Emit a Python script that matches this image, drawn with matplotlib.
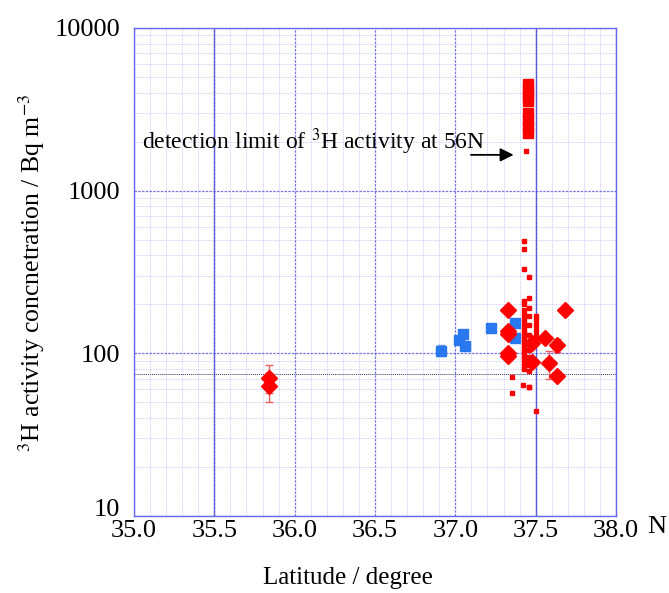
import numpy as np
import matplotlib.pyplot as plt
import matplotlib.transforms as mtransforms
from matplotlib.ticker import FixedLocator, NullFormatter

plt.rcParams['font.family'] = ['Liberation Serif', 'DejaVu Serif']
plt.rcParams['mathtext.fontset'] = 'stix'

# red diamonds (with error bars)
dia_lat = [35.84, 35.84, 37.33, 37.33, 37.33, 37.33, 37.33, 37.48, 37.48, 37.56, 37.58, 37.63, 37.63, 37.68]
dia_val = [71, 63, 185, 138, 131, 100, 96, 116, 89, 125, 87, 112, 73, 185]
dia_err = [14, 13, 0, 0, 0, 0, 0, 0, 0, 0, 17, 10, 0, 0]

# blue squares
blu_lat = [36.91, 37.02, 37.05, 37.06, 37.22, 37.37, 37.37]
blu_val = [104, 121, 131, 111, 143, 154, 125]
blu_err = [8, 6, 6, 6, 8, 8, 8]

# small red squares
sm_lat = ([37.43] * 23 + [37.46] * 12 + [37.50] * 7 + [37.35, 37.35, 37.42, 37.46, 37.44])
sm_val = ([490, 440, 330, 210, 200, 185, 175, 165, 155, 148, 140, 133, 127, 122,
           117, 112, 107, 102, 97, 93, 88, 84, 80] +
          [295, 220, 190, 170, 150, 130, 118, 105, 95, 85, 78, 62] +
          [170, 160, 150, 140, 130, 120, 44] +
          [72, 57, 64, 62, 1760])

# big red squares (high values)
big_lat = [37.45] * 8
big_val = [4500, 4150, 3850, 3550, 3000, 2700, 2450, 2250]

fig = plt.figure(figsize=(6.69, 5.93), dpi=100)
ax = fig.add_axes([0.2003, 0.1298, 0.7205, 0.823])
ax.set_yscale('log')
ax.set_xlim(35.0, 38.0)
ax.set_ylim(10, 10000)

gc = '#5555dd'
ax.xaxis.set_major_locator(FixedLocator(np.arange(35.0, 38.01, 0.5)))
ax.xaxis.set_minor_locator(FixedLocator(np.arange(35.0, 38.01, 0.1)))
ax.grid(True, which='major', axis='both', color=gc, linestyle=(0, (2, 1)), linewidth=0.9, alpha=0.8)
ax.grid(True, which='minor', axis='both', color=gc, linestyle=(0, (1, 1)), linewidth=0.6, alpha=0.35)
for v in [35.5, 37.5]:
    ax.axvline(v, color=gc, linewidth=1.0, alpha=0.9)
ax.axhline(75, color='#333366', linestyle=(0, (1, 1)), linewidth=0.7)
ax.yaxis.set_minor_formatter(NullFormatter())
ax.set_xticklabels(['35.0', '35.5', '36.0', '36.5', '37.0', '37.5', '38.0'])
ax.set_yticks([10, 100, 1000, 10000])
ax.set_yticklabels(['10', '100', '1000', '10000'])
ax.tick_params(which='both', length=0, labelsize=19)
ax.tick_params(axis='x', pad=3)
ax.tick_params(axis='y', pad=10)
for s in ax.spines.values():
    s.set_color('#6666ee')
    s.set_linewidth(1.0)
ax.set_axisbelow(True)

# nudge the bottom y label up a little so it clears "35.0"
lab10 = ax.get_yticklabels()[0]
lab10.set_transform(lab10.get_transform() +
                    mtransforms.ScaledTranslation(0, 6 / 72, fig.dpi_scale_trans))

ax.plot(sm_lat, sm_val, 's', color='red', markersize=3, linestyle='none')
ax.plot(big_lat, big_val, 's', color='red', markersize=7.5, linestyle='none')
ax.errorbar(blu_lat, blu_val, yerr=blu_err, fmt='s', color='#2a78f0', markersize=7,
            ecolor='#6aa0f0', elinewidth=1, capsize=3)
ax.errorbar(dia_lat, dia_val, yerr=dia_err, fmt='D', color='red', markersize=8.5,
            ecolor='#ee6060', elinewidth=1, capsize=3)

ax.text(35.05, 2000, 'detection limit of $^{3}$H activity at 56N', fontsize=17, va='center', ha='left')
ax.annotate('', xy=(37.38, 1660), xytext=(37.08, 1660),
            arrowprops=dict(arrowstyle='-|>', color='black', lw=1.3, mutation_scale=20))

fig.text(0.52, 0.025, 'Latitude / degree', fontsize=18, ha='center', va='center')
fig.text(0.047, 0.54, '$^{3}$H activity concnetration / Bq m$^{-3}$', fontsize=18.5,
         rotation=90, ha='center', va='center')
fig.text(0.967, 0.112, 'N', fontsize=19, ha='left', va='center')

fig.savefig('out.png', dpi=100)
